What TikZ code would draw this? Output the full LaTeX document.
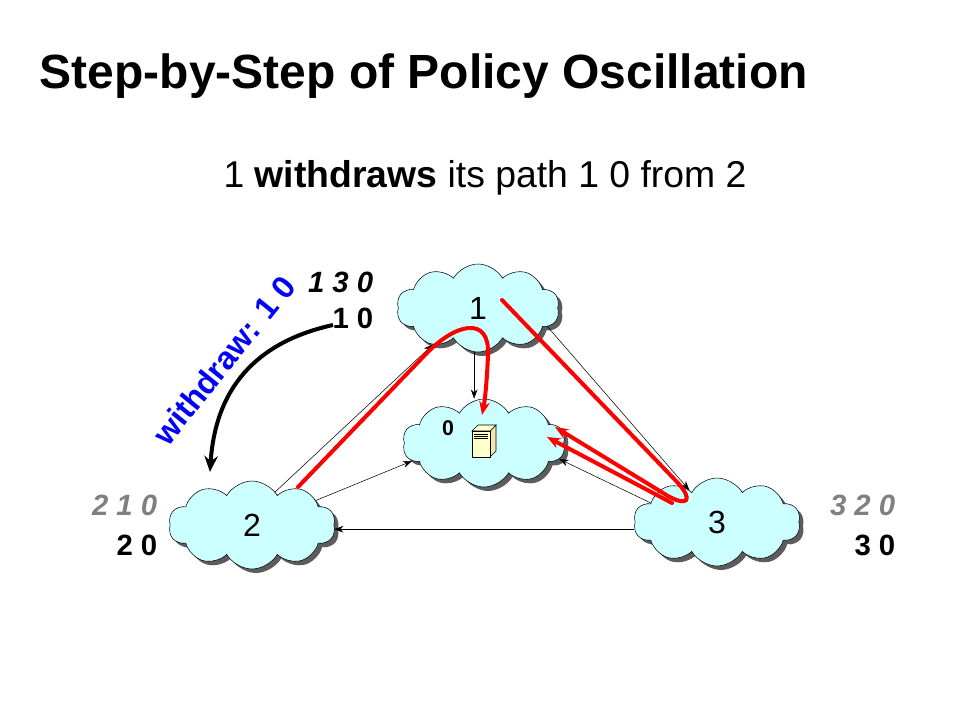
\documentclass[tikz,border=0pt]{standalone}
\usepackage{fontspec}
\setmainfont{Liberation Sans}
\usepackage{tikz}
\usetikzlibrary{arrows.meta,calc,shapes.symbols,shadows,positioning}
\definecolor{cloudcyan}{RGB}{204,255,255}
\definecolor{serverbeige}{RGB}{255,255,204}
\definecolor{oldgray}{RGB}{128,128,128}

\begin{document}
\begin{tikzpicture}[x=0.75pt,y=-0.75pt,
  as/.style={cloud,cloud puffs=10,cloud puff arc=120,cloud ignores aspect,minimum width=122pt,minimum height=66pt,inner sep=0pt,draw=black,fill=cloudcyan,drop shadow={shadow xshift=3pt,shadow yshift=-3pt,fill=black!85,opacity=0.75},font=\fontsize{24}{28}\selectfont},
  link/.style={thin,-{Stealth[length=7pt,width=5pt]}},
  redpath/.style={red,line width=3pt,line cap=round,-{Stealth[length=10pt,width=8pt]}},
  oldrib/.style={anchor=base east,text=oldgray,font=\bfseries\itshape\fontsize{22}{26}\selectfont},
  rib/.style={anchor=base east,font=\bfseries\itshape\fontsize{22}{26}\selectfont},
  best/.style={anchor=base east,font=\bfseries\fontsize{22}{26}\selectfont}]
\useasboundingbox (0,0) rectangle (960,720);
\node[anchor=base west,font=\bfseries\fontsize{36}{40}\selectfont] (title) at (35,89) {Step-by-Step of Policy Oscillation};
\node[anchor=base,font=\fontsize{28}{32}\selectfont] (sub) at (485,188) {1 \textbf{withdraws} its path 1 0 from 2};
\node[as] (c1) at (478,308) {1};
\node[as] (c0) at (484,443) {};
\node[as,minimum width=125pt] (c2) at (252,525) {2};
\node[as,minimum width=125pt] (c3) at (717,522) {3};
\node[font=\bfseries\fontsize{16}{18}\selectfont] (zero) at (448,428) {0};
\coordinate (srv) at (484,441);
\begin{scope}[shift={(srv)}]
\filldraw[fill=serverbeige!80!brown,draw=black] (6,-10) -- (12,-16) -- (12,10) -- (6,16) -- cycle;
\filldraw[fill=serverbeige,draw=black] (-12,-10) -- (-6,-16) -- (12,-16) -- (6,-10) -- cycle;
\filldraw[fill=serverbeige,draw=black] (-12,-10) rectangle (6,16);
\foreach \yy in {-7,-5,-3} \draw[thin] (-10,\yy) -- (4,\yy);
\end{scope}
\draw[link] (c2.55) -- (c1.219);
\draw[link] (c1.265) -- (c1.265 |- c0.north);
\draw[link] (c1.-15) -- (c3.131);
\draw[link] (c2.21) -- (c0.194);
\draw[link] (c3.164) -- (c0.-12);
\draw[link] (c3.185) -- (c3.185 -| c2.east);
\node[rib] (r1) at (378,292) {1 3 0};
\node[best] (b1) at (378,328) {1 0};
\node[oldrib] (r2) at (162,515) {2 1 0};
\node[best] (b2) at (162,555) {2 0};
\node[oldrib] (r3) at (900,515) {3 2 0};
\node[best] (b3) at (900,555) {3 0};
\node[rotate=51,text=blue,font=\bfseries\fontsize{24}{28}\selectfont] (wd) at (224,360) {withdraw: 1 0};
\coordinate (wstart) at (333,325);
\coordinate (wend) at (210,472);
\draw[line width=3pt,-{Stealth[length=12pt,width=10pt]}] (wstart) .. controls (265,340) and (216,380) .. (wend);
\coordinate (rA) at (298,487);
\coordinate (rAend) at (482,415);
\draw[redpath] (rA) -- (425,355) .. controls (455,323) and (490,315) .. (488,355) .. controls (487,380) and (485,400) .. (rAend);
\coordinate (rB) at (502,300);
\coordinate (rBend) at (555,427);
\draw[redpath] (rB) -- (678,483) .. controls (693,500) and (688,507) .. (668,496) -- (rBend);
\coordinate (rC) at (672,503);
\coordinate (rCend) at (547,437);
\draw[redpath] (rC) -- (rCend);
\end{tikzpicture}
\end{document}
